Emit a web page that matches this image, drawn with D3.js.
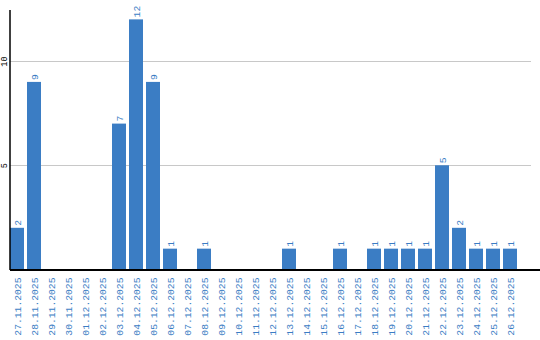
<!DOCTYPE html>
<html><head><meta charset="utf-8">
<script src="https://cdn.jsdelivr.net/npm/d3@7"></script>
<style>body{margin:0;background:#fff}svg{display:block}</style>
</head><body>
<svg id="c" width="540" height="340"></svg>
<script>
const categories = ["27.11.2025","28.11.2025","29.11.2025","30.11.2025","01.12.2025","02.12.2025","03.12.2025","04.12.2025","05.12.2025","06.12.2025","07.12.2025","08.12.2025","09.12.2025","10.12.2025","11.12.2025","12.12.2025","13.12.2025","14.12.2025","15.12.2025","16.12.2025","17.12.2025","18.12.2025","19.12.2025","20.12.2025","21.12.2025","22.12.2025","23.12.2025","24.12.2025","25.12.2025","26.12.2025"];
const values = [2,9,0,0,0,0,7,12,9,1,0,1,0,0,0,0,1,0,0,1,0,1,1,1,1,5,2,1,1,1];
const yTicks = [5,10];

const svg = d3.select("#c");
const blue = "#3b7dc4";
const font = "'Liberation Mono', 'DejaVu Sans Mono', monospace";

const x = d3.scaleBand().domain(categories).range([10,517]).paddingInner(3/17).paddingOuter(0);
const y = d3.scaleLinear().domain([0,12.45]).range([269.5,10]);

// gridlines
svg.append("g").selectAll("line").data(yTicks).join("line")
  .attr("x1",10).attr("x2",531).attr("y1",d=>Math.round(y(d))+0.5).attr("y2",d=>Math.round(y(d))+0.5)
  .attr("stroke","#c8c8c8").attr("stroke-width",1);

// bars
svg.append("g").selectAll("rect").data(values).join("rect")
  .attr("x",(d,i)=>x(categories[i])).attr("width",x.bandwidth())
  .attr("y",d=>y(d)).attr("height",d=>y(0)-y(d)).attr("fill",blue);

// value labels
svg.append("g").selectAll("text").data(values.map((v,i)=>({v,c:categories[i]})).filter(d=>d.v>0)).join("text")
  .attr("transform",d=>`translate(${x(d.c)+x.bandwidth()/2+3.5},${y(d.v)-2}) rotate(-90)`)
  .attr("font-family",font).attr("font-size","9.7px").attr("fill",blue)
  .text(d=>d.v);

// x axis
const xa = svg.append("g").attr("transform","translate(0,269.5)")
  .call(d3.axisBottom(x).tickSize(0).tickPadding(0));
xa.select(".domain").remove();
svg.append("line").attr("x1",10).attr("x2",540).attr("y1",270).attr("y2",270).attr("stroke","#000").attr("stroke-width",2);
xa.selectAll("text")
  .attr("transform",d=>`translate(4,8) rotate(-90)`)
  .attr("text-anchor","end").attr("dy",0).attr("y",0).attr("x",0)
  .attr("font-family",font).attr("font-size","9.7px").attr("fill",blue);

// y axis
const ya = svg.append("g").attr("transform","translate(10,0)")
  .call(d3.axisLeft(y).tickValues(yTicks).tickSize(0).tickPadding(0).tickFormat(d3.format("d")));
ya.select(".domain").remove();
svg.append("line").attr("x1",10).attr("x2",10).attr("y1",10).attr("y2",270).attr("stroke","#000").attr("stroke-width",1.5);
ya.selectAll("text")
  .attr("transform",d=>`translate(-3,0) rotate(-90)`)
  .attr("text-anchor","middle").attr("x",0).attr("dy",0).attr("y",0)
  .attr("font-family",font).attr("font-size","8.5px").attr("fill","#000");
</script>
</body></html>
